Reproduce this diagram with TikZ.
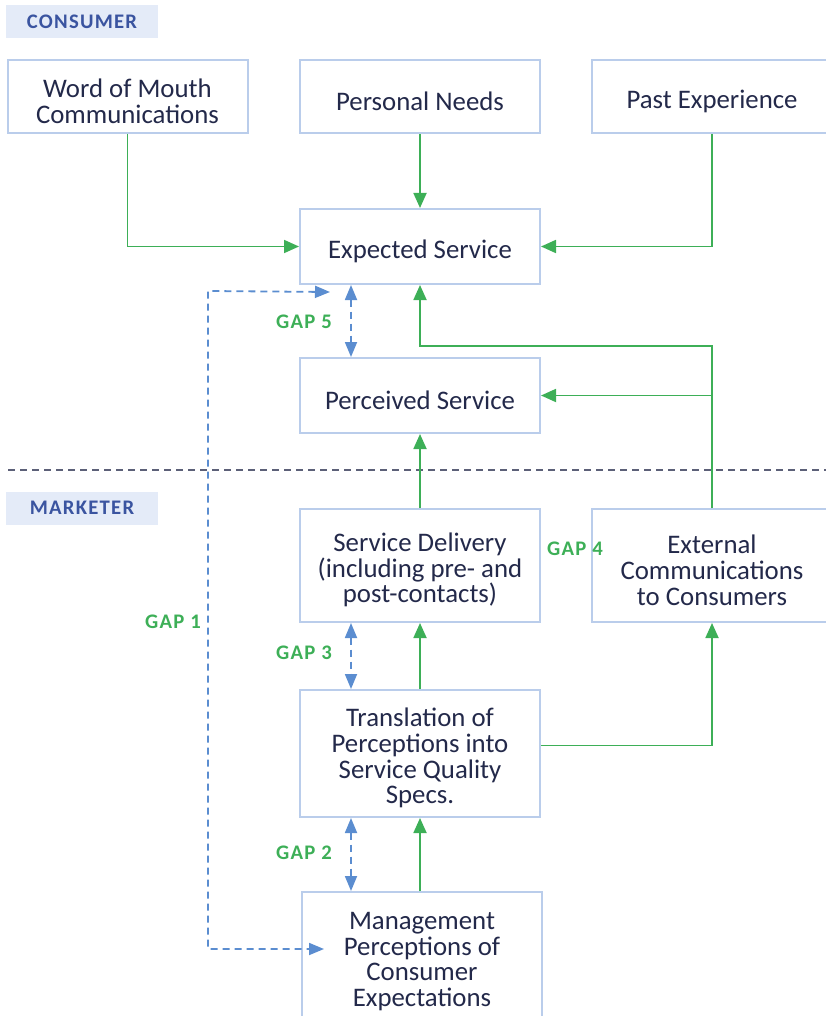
\documentclass[tikz,border=0pt]{standalone}
\usepackage{fontspec}
\setmainfont{Carlito}
\newfontfamily\tagfont[LetterSpace=6]{Carlito}
\usepackage{tikz}
\usetikzlibrary{arrows.meta}

\definecolor{boxline}{HTML}{BACDEB}
\definecolor{inktext}{HTML}{23294A}
\definecolor{flowgreen}{HTML}{3DAF57}
\definecolor{gapblue}{HTML}{5B8DD0}
\definecolor{tagfill}{HTML}{E4EBF8}
\definecolor{tagtext}{HTML}{3A54A0}
\definecolor{divider}{HTML}{5C6078}

\begin{document}
\begin{tikzpicture}[x=1pt,y=-1pt,
  stage/.style={draw=boxline,line width=2pt,fill=white,minimum width=240pt,align=center,text=inktext,font=\fontsize{26.8}{25.8}\selectfont,inner sep=0pt,
    execute at begin node={\vbox\bgroup\vskip9pt\hbox\bgroup},execute at end node={\egroup\egroup}},
  sidetag/.style={fill=tagfill,minimum width=152pt,minimum height=33pt,text=tagtext,font=\tagfont\fontsize{20.7}{22}\selectfont\bfseries},
  gaptag/.style={text=flowgreen,font=\tagfont\fontsize{20.7}{22}\selectfont\bfseries},
  flow/.style={draw=flowgreen,line width=1.8pt,-{Triangle[length=15pt,width=13pt]}},
  gap/.style={draw=gapblue,line width=1.8pt,dash pattern=on 7pt off 5pt,{Triangle[length=15pt,width=12pt]}-{Triangle[length=15pt,width=12pt]}}]
\useasboundingbox (0,0) rectangle (826,1016);

\node[sidetag] (consumer) at (82,21.5) {CONSUMER};
\node[sidetag] (marketer) at (82,508) {MARKETER};
\draw[divider,line width=1.5pt,dash pattern=on 7pt off 5pt] (8,470) -- (826,470);

\node[stage,minimum height=73pt] (wom) at (127.5,96.5) {Word of Mouth\\Communications};
\node[stage,minimum height=73pt] (needs) at (420,96.5) {Personal Needs};
\node[stage,minimum height=73pt] (past) at (712,96.5) {Past Experience};
\node[stage,minimum height=75pt] (expected) at (420,246.5) {Expected Service};
\node[stage,minimum height=75pt] (perceived) at (420,395.5) {Perceived Service};
\node[stage,minimum height=113pt] (delivery) at (420,565.5) {Service Delivery\\(including pre- and\\post-contacts)};
\node[stage,minimum height=113pt] (external) at (712,565.5) {External\\Communications\\to Consumers};
\node[stage,minimum height=127pt] (translation) at (420,753.5) {Translation of\\Perceptions into\\Service Quality\\Specs.};
\node[stage,minimum height=130pt] (mgmt) at (422,957) {Management\\Perceptions of\\Consumer\\Expectations};

\coordinate (bend) at (420,346);
\coordinate (gtop) at (208,291);
\coordinate (gbot) at (208,949);

\draw[flow] (wom.south) |- (expected.west);
\draw[flow] (needs.south) -- (expected.north);
\draw[flow] (past.south) |- (expected.east);
\draw[flow] (external.north) |- (bend) -- (expected.south);
\draw[flow] (perceived.east -| external.north) -- (perceived.east);
\draw[flow] (delivery.north) -- (perceived.south);
\draw[flow] (translation.north) -- (delivery.south);
\draw[flow] ([yshift=8pt]translation.east) -| (external.south);
\draw[flow] (mgmt.north -| translation.south) -- (translation.south);

\draw[gap] ([xshift=-69pt]expected.south) -- ([xshift=-69pt]perceived.north);
\draw[gap] ([xshift=-69pt]delivery.south) -- ([xshift=-69pt]translation.north);
\draw[gap] ([xshift=-69pt]translation.south) -- ([xshift=-71pt]mgmt.north);
\draw[gap] ([xshift=-90pt,yshift=-7pt]expected.south) -- (gtop) -- (gbot) -- ([xshift=23pt,yshift=8pt]mgmt.west);

\node[gaptag] (gap5) at (304,322) {GAP 5};
\node[gaptag] (gap4) at (575,549) {GAP 4};
\node[gaptag] (gap1) at (173,622) {GAP 1};
\node[gaptag] (gap3) at (304,653) {GAP 3};
\node[gaptag] (gap2) at (304,853) {GAP 2};
\end{tikzpicture}
\end{document}
